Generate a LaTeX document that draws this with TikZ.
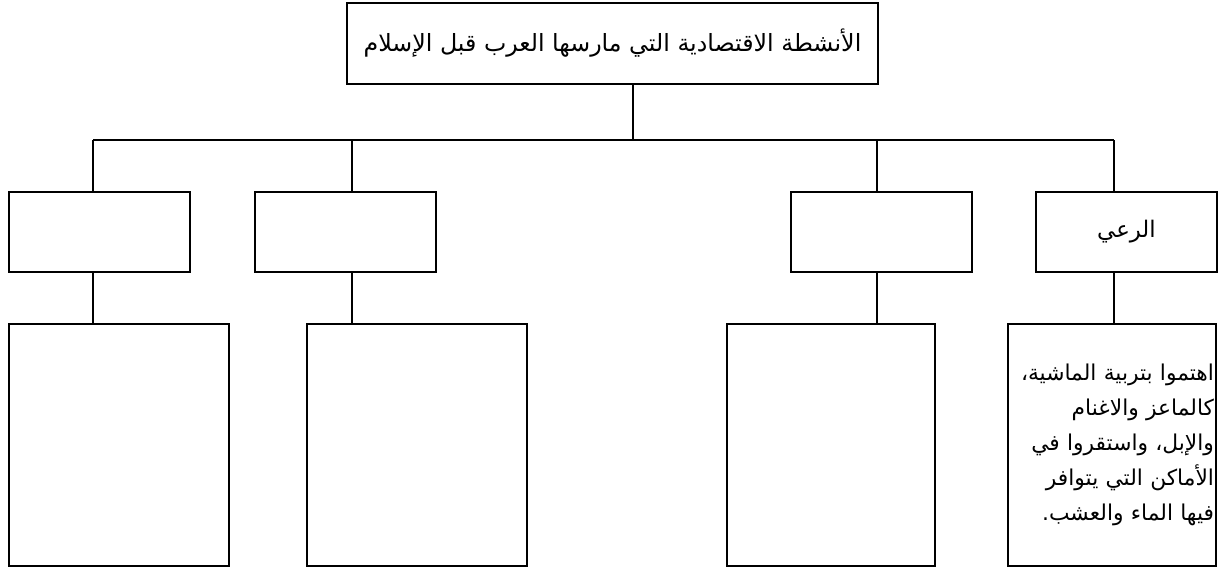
\documentclass[tikz,border=0pt]{standalone}
\usepackage{fontspec}
\newfontfamily\arabicfont[Script=Arabic]{DejaVu Sans}
\TeXXeTstate=1
\usetikzlibrary{positioning}

\tikzset{
  box/.style={draw, line width=1.2pt, inner sep=0pt, font=\arabicfont\fontsize{13}{19.5}\selectfont},
  headbox/.style={box, minimum width=10.62cm, minimum height=1.62cm, font=\arabicfont\fontsize{13.5}{16}\selectfont},
  kindbox/.style={box, minimum width=3.62cm, minimum height=1.6cm},
  textbox/.style={box, minimum height=4.84cm, align=right},
  link/.style={line width=1.2pt}
}

\begin{document}
\begin{tikzpicture}[x=0.02cm, y=-0.02cm]
  \useasboundingbox (0, 0) rectangle (1221, 568);

  % titre
  \node[headbox] (head) at (612.5, 43.5) {\beginR الأنشطة الاقتصادية التي مارسها العرب قبل الإسلام\endR};

  % bus
  \coordinate (c1) at (93, 140);
  \coordinate (c2) at (352, 140);
  \coordinate (c3) at (877, 140);
  \coordinate (c4) at (1114, 140);
  \coordinate (c0) at (633, 140);
  \draw[link] (c1) -- (c4);
  \draw[link] (c0 |- head.south) -- (c0);

  % activités
  \node[kindbox] (k1) at (99.5, 232) {};
  \node[kindbox] (k2) at (345.5, 232) {};
  \node[kindbox] (k3) at (881.5, 232) {};
  \node[kindbox] (k4) at (1126.5, 232) {\beginR الرعي\endR};

  % descriptions
  \node[textbox, minimum width=4.4cm] (d1) at (119, 445) {};
  \node[textbox, minimum width=4.4cm] (d2) at (417, 445) {};
  \node[textbox, minimum width=4.16cm] (d3) at (831, 445) {};
  \node[textbox, minimum width=4.16cm, text width=4.08cm,
        font=\arabicfont\fontsize{12.4}{20}\selectfont] (d4) at (1112, 445)
    {\beginR اهتموا بتربية الماشية،\endR\\
     \beginR كالماعز والاغنام\endR\\
     \beginR والإبل، واستقروا في\endR\\
     \beginR الأماكن التي يتوافر\endR\\
     \beginR فيها الماء والعشب.\endR};

  \foreach \i in {1, 2, 3, 4} {
    \draw[link] (c\i) -- (c\i |- k\i.north);
    \draw[link] (c\i |- k\i.south) -- (c\i |- d\i.north);
  }
\end{tikzpicture}
\end{document}
